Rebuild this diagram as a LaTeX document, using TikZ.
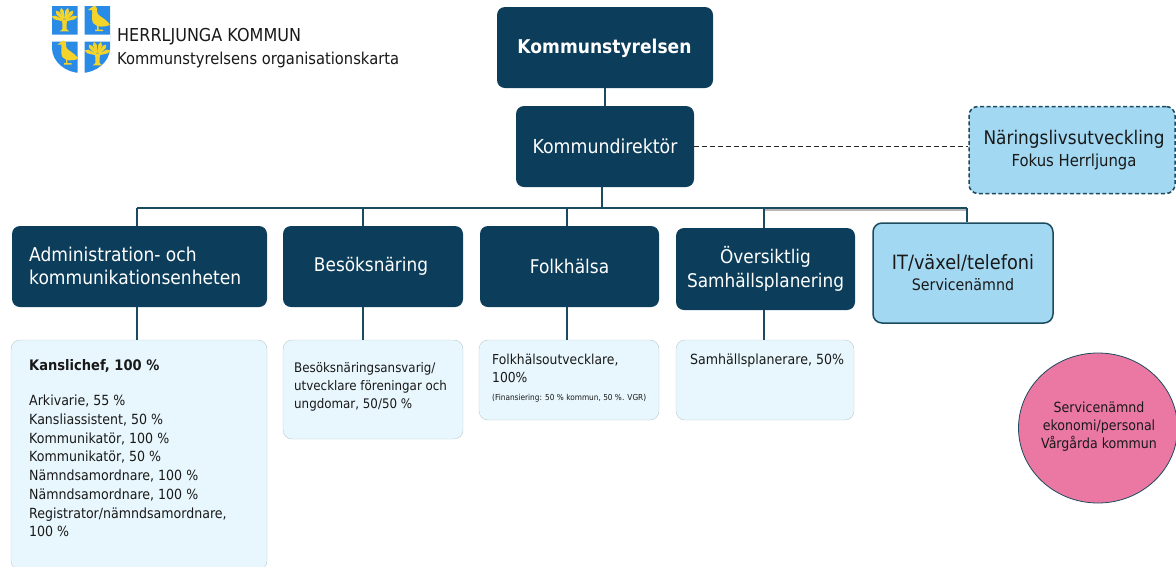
\documentclass[tikz,border=0pt]{standalone}
\usepackage{fontspec}
\setmainfont{DejaVu Sans}[FakeStretch=0.9]
\definecolor{navy}{HTML}{0C3D5A}
\definecolor{skyb}{HTML}{A3D8F2}
\definecolor{pale}{HTML}{E8F7FD}
\definecolor{rosa}{HTML}{EA78A2}
\definecolor{lne}{HTML}{1C4A5E}
\definecolor{shieldb}{HTML}{2A8BE6}
\definecolor{shieldy}{HTML}{F4D42A}
\newcommand{\bx}[1]{\fontsize{#1}{#1}\selectfont}
\tikzset{
 x=1pt,y=-1pt,
 dark/.style={draw=none,fill=navy,rounded corners=8pt,text=white,align=center,inner sep=0pt},
 sky/.style={draw=lne,line width=1.5pt,fill=skyb,rounded corners=9pt,text=black!90,align=center,inner sep=0pt},
 low/.style={draw=lne!30,line width=0.4pt,fill=pale,rounded corners=9pt,inner sep=0pt},
 lowtxt/.style={anchor=north west,align=left,inner sep=0pt,text=black!90},
 conn/.style={draw=lne,line width=1.4pt},
 duck/.pic={\fill[shieldy] (-5,-14) .. controls (-2,-17) and (1,-14) .. (0,-9) .. controls (0,-5) and (9,-3) .. (13,4) .. controls (8,6) and (0,7) .. (-4,2) .. controls (-6,-2) and (-4,-8) .. (-5,-11) -- (-9,-11) -- cycle;
   \fill[shieldy] (0,4) rectangle (1.5,9) (-2,8.5) rectangle (6,10);},
 sheaf/.pic={\fill[shieldy] (-3,-2) -- (3,-2) -- (2.5,10) -- (6,13) -- (-6,13) -- (-2.5,10) -- cycle;
   \foreach \a in {-70,-40,-15,15,40,70}{\fill[shieldy,rotate=\a] (-1.2,-3) -- (1.2,-3) -- (2.4,-13) -- (0,-17) -- (-2.4,-13) -- cycle;}},
}
\begin{document}
\begin{tikzpicture}
\useasboundingbox (0,0) rectangle (1176,566);
% logo
\fill[shieldb] (52,6) -- (110,6) -- (110,48) .. controls (110,62) and (96,73) .. (81,73) .. controls (66,73) and (52,62) .. (52,48) -- cycle;
\fill[white] (77.5,6) rectangle (84.5,73) (52,34.5) rectangle (110,41.5);
\pic[transform shape,scale=.8] at (64.5,21) {sheaf};
\pic[transform shape,scale=1] at (97,21) {duck};
\pic[transform shape,scale=.95] at (66,55) {duck};
\pic[transform shape,scale=.8] at (97.5,55) {sheaf};
\node[anchor=west,inner sep=0pt,text=black!90] (hk) at (117,37) {\bx{17.8}HERRLJUNGA KOMMUN};
\node[anchor=west,inner sep=0pt,text=black!90] (ko) at (117,60) {\bx{16.35}Kommunstyrelsens organisationskarta};
% top
\node[dark,minimum width=216pt,minimum height=81pt] (ks) at (605,47.5) {};
\node[text=white,inner sep=0pt] (kst) at (604.5,48) {\bx{19}\bfseries Kommunstyrelsen};
\node[dark,minimum width=178pt,minimum height=81pt] (kd) at (605,146.5) {\bx{19.3}Kommundirektör};
\node[sky,dashed,dash pattern=on 4pt off 2.5pt,minimum width=206pt,minimum height=87pt] (nl) at (1072,150) {};
\node[align=center,inner sep=0pt,text=black!90] (nlt) at (1074,150) {\bx{18.8}Näringslivsutveckling\\[5pt]\bx{16.5}Fokus Herrljunga};
% row
\node[dark,minimum width=255pt,minimum height=81pt] (ad) at (139.5,266.5) {};
\node[align=left,inner sep=0pt,text=white,anchor=west] (adt) at (29,266) {\bx{19}Administration- och\\[7pt]\bx{19}kommunikationsenheten};
\node[dark,minimum width=180pt,minimum height=81pt] (be) at (373,266.5) {};
\node[text=white,inner sep=0pt] (bet) at (371,266.5) {\bx{18.8}Besöksnäring};
\node[dark,minimum width=179pt,minimum height=81pt] (fo) at (569.5,266.5) {\bx{18.9}Folkhälsa};
\node[dark,minimum width=179pt,minimum height=82pt] (ov) at (765.5,269) {\bx{18.8}Översiktlig\\[5pt]\bx{18.8}Samhällsplanering};
\node[sky,minimum width=180pt,minimum height=100pt] (it) at (963,273) {\bx{19.7}IT/växel/telefoni\\[6pt]\bx{15.8}Servicenämnd};
% lower
\node[low,minimum width=256pt,minimum height=230pt] (kl) at (139,455) {};
\node[low,minimum width=180pt,minimum height=99pt] (bl) at (373,389.5) {};
\node[low,minimum width=180pt,minimum height=80pt] (fl) at (569,380) {};
\node[low,minimum width=178pt,minimum height=80pt] (sl) at (765,380) {};
\node[circle,fill=rosa,draw=lne,line width=.8pt,inner sep=0pt,xscale=1.06,minimum width=150pt] (ci) at (1098,428) {};
\node[align=center,inner sep=0pt,text=black!90,font=\fontsize{14}{18}\selectfont] (cit) at (1099,427) {Servicenämnd\\ekonomi/personal\\Vårgårda kommun};
% lower texts
\node[lowtxt,font=\fontsize{14.5}{18}\selectfont\bfseries] (t1) at (29,359) {Kanslichef, 100 \%};
\node[lowtxt,font=\fontsize{14}{18.7}\selectfont] (t2) at (29,395) {Arkivarie, 55 \%\\Kansliassistent, 50 \%\\Kommunikatör, 100 \%\\Kommunikatör, 50 \%\\Nämndsamordnare, 100 \%\\Nämndsamordnare, 100 \%\\Registrator/nämndsamordnare,\\100 \%};
\node[lowtxt,font=\fontsize{13.2}{18}\selectfont] (t3) at (294,362) {Besöksnäringsansvarig/\\utvecklare föreningar och\\ungdomar, 50/50 \%};
\node[lowtxt,font=\fontsize{13.7}{18.3}\selectfont] (t4) at (492,353.5) {Folkhälsoutvecklare,\\100\%};
\node[lowtxt,font=\fontsize{8.2}{9}\selectfont] (t5) at (492,394) {(Finansiering: 50 \% kommun, 50 \%. VGR)};
\node[lowtxt,font=\fontsize{14}{18}\selectfont] (t6) at (690,354) {Samhällsplanerare, 50\%};
% connectors
\coordinate (bl0) at (137,208);
\coordinate (br0) at (967,208);
\coordinate (bm) at (764,208);
\draw[line width=1.5pt,draw=black!28] (765,210) -- (966,210);
\draw[draw=lne,line width=1.3pt] (bl0) -- (br0);
\draw[conn] (br0) -- (br0 |- it.north);
\draw[conn] (ks.south) -- (kd.north);
\draw[conn] ([xshift=-3pt]kd.south) -- (602,208);
\draw[conn] (bl0) -- (bl0 |- ad.north);
\draw[conn] (363,208) -- (363,226);
\draw[conn] (567,208) -- (567,226);
\draw[conn] (bm) -- (bm |- ov.north);
\draw[conn] (bl0 |- ad.south) -- (bl0 |- kl.north);
\draw[conn] (363,307) -- (363,340);
\draw[conn] (567,307) -- (567,340);
\draw[conn] (bm |- ov.south) -- (bm |- sl.north);
\draw[draw=black!85,line width=1.9pt,dash pattern=on 5pt off 3pt] (kd.east) -- (nl.west |- kd.east);
\end{tikzpicture}
\end{document}
